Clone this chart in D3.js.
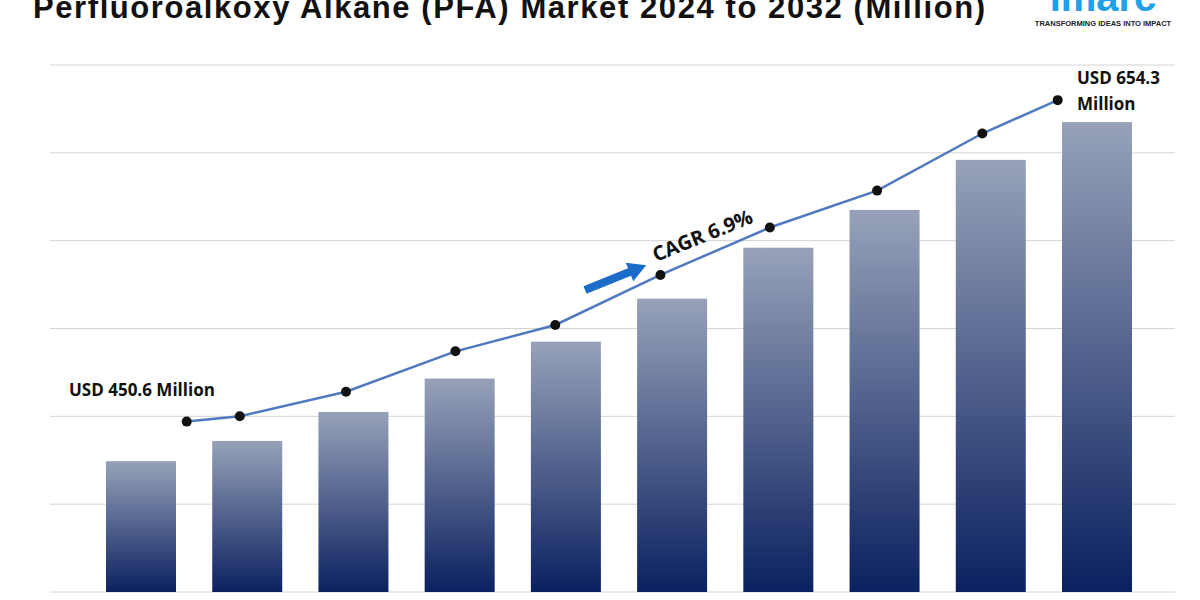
<!DOCTYPE html><html><head><meta charset="utf-8"><script src="https://cdn.jsdelivr.net/npm/d3@7"></script>
<style>body{margin:0;background:#fff}</style></head><body><svg id="c" width="1200" height="600"></svg>
<script>
const years=["2023","2024","2025","2026","2027","2028","2029","2030","2031","2032"];
const barValues=[149,172,205,243,285,334,392,435,492,535];
const lineIndex=[0.43,0.93,1.93,2.96,3.9,4.89,5.92,6.93,7.92,8.63];
const lineValues=[194,200,228,274,304,361,415,457,522,560];
const gridTicks=[0,100,200,300,400,500,600];
const svg=d3.select("#c");
const y=d3.scaleLinear().domain([0,600]).range([592,65]);
const xi=d3.scaleLinear().domain([0,9]).range([141,1097]);
const bw=70;
const g=svg.append("defs").append("linearGradient").attr("id","gr").attr("x1",0).attr("y1",0).attr("x2",0).attr("y2",1);
g.append("stop").attr("offset","0").attr("stop-color","#97a2b9");
g.append("stop").attr("offset","1").attr("stop-color","#0b2160");
svg.selectAll(".gl").data(gridTicks).join("line").attr("x1",50).attr("x2",1175).attr("y1",d=>y(d)).attr("y2",d=>y(d)).attr("stroke","#d4d4d4").attr("stroke-width",1);
svg.selectAll(".b").data(barValues).join("rect").attr("x",(d,i)=>xi(i)-bw/2).attr("width",bw).attr("y",d=>y(d)).attr("height",d=>y(0)-y(d)).attr("fill","url(#gr)");
const pts=lineValues.map((v,i)=>[xi(lineIndex[i]),y(v)]);
svg.append("path").attr("d",d3.line()(pts)).attr("fill","none").attr("stroke","#4f79c0").attr("stroke-width",2.5);
svg.selectAll(".p").data(pts).join("circle").attr("cx",d=>d[0]).attr("cy",d=>d[1]).attr("r",5).attr("fill","#111");
svg.append("text").attr("x",509).attr("y",18).attr("text-anchor","middle").attr("font-family","Liberation Sans, Arial").attr("font-weight","bold").attr("font-size",31).attr("textLength",952).attr("fill","#111").text("Perfluoroalkoxy Alkane (PFA) Market 2024 to 2032 (Million)");
svg.append("text").attr("x",1103).attr("y",11).attr("text-anchor","middle").attr("font-family","Liberation Sans, Arial").attr("font-weight","bold").attr("font-size",40).attr("fill","#1ea0ea").text("imarc");
svg.append("text").attr("x",1103).attr("y",26).attr("text-anchor","middle").attr("font-family","Liberation Sans, Arial").attr("font-weight","bold").attr("font-size",7.5).attr("fill","#222").text("TRANSFORMING IDEAS INTO IMPACT");
const lt=(x,y0,t)=>svg.append("text").attr("x",x).attr("y",y0).attr("font-family","Open Sans, Liberation Sans").attr("font-weight","bold").attr("font-size",17).attr("fill","#111").text(t);
lt(69,396,"USD 450.6 Million");lt(1077,84,"USD 654.3");lt(1077,110,"Million");
const ag=svg.append("g").attr("transform","translate(585,290) rotate(-22)");
ag.append("line").attr("x1",0).attr("y1",0).attr("x2",50).attr("y2",0).attr("stroke","#1a6cc8").attr("stroke-width",8);
ag.append("path").attr("d","M48,-10 L66,0 L48,10 Z").attr("fill","#1a6cc8");
svg.append("text").attr("transform","translate(656,262) rotate(-22)").attr("font-family","Open Sans, Liberation Sans").attr("font-weight","bold").attr("font-size",20).attr("fill","#111").text("CAGR 6.9%");
</script></body></html>
